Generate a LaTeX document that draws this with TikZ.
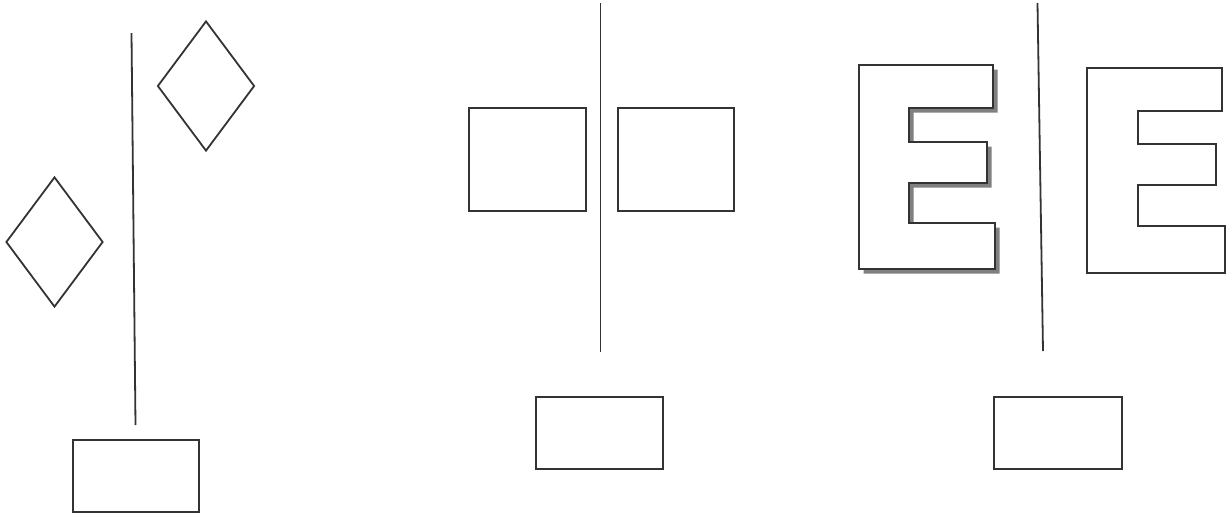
\documentclass[tikz,border=0pt]{standalone}
\usetikzlibrary{shapes.geometric}
\begin{document}
\begin{tikzpicture}[x=1pt,y=-1pt,
  ln/.style={draw=black!80,line width=1.8pt},
  box/.style={ln,rectangle,inner sep=0pt,fill=white},
  dia/.style={ln,diamond,inner sep=0pt,fill=white},
  eshape/.style={ln,fill=white,line join=miter},
  eshadow/.style={fill=black!50,draw=none}]
\useasboundingbox (0,0) rectangle (1227,520);
% panel 1
\coordinate (l1t) at (131.5,33);
\coordinate (l1b) at (135.5,425);
\draw[ln] (l1t) -- (l1b);
\node[dia,minimum width=97pt,minimum height=130pt] (d1) at (206,86) {};
\node[dia,minimum width=97pt,minimum height=130pt] (d2) at (54.5,242) {};
\node[box,minimum width=126pt,minimum height=72pt] (r1) at (136,476) {};
% panel 2
\coordinate (l2t) at (600.5,3);
\coordinate (l2b) at (600.5,352);
\draw[ln] (l2t) -- (l2b);
\node[box,minimum width=117pt,minimum height=103pt] (r2a) at (527.5,159.5) {};
\node[box,minimum width=116pt,minimum height=103pt] (r2b) at (676,159.5) {};
\node[box,minimum width=127pt,minimum height=72pt] (r2c) at (599.5,433) {};
% panel 3
\coordinate (l3t) at (1037.5,3);
\coordinate (l3b) at (1043,351);
\draw[ln] (l3t) -- (l3b);
% left E with shadow
\fill[eshadow,shift={(4.5,4.5)}] (859,65) -- (993,65) -- (993,108) -- (909,108) -- (909,142) -- (987,142) -- (987,183) -- (909,183) -- (909,223) -- (995,223) -- (995,269) -- (859,269) -- cycle;
\draw[eshape] (859,65) -- (993,65) -- (993,108) -- (909,108) -- (909,142) -- (987,142) -- (987,183) -- (909,183) -- (909,223) -- (995,223) -- (995,269) -- (859,269) -- cycle;
% right E
\draw[eshape] (1087,68) -- (1222,68) -- (1222,111) -- (1138,111) -- (1138,144) -- (1216,144) -- (1216,185) -- (1138,185) -- (1138,226) -- (1225,226) -- (1225,273) -- (1087,273) -- cycle;
\node[box,minimum width=128pt,minimum height=72pt] (r3) at (1058,433) {};
\end{tikzpicture}
\end{document}
